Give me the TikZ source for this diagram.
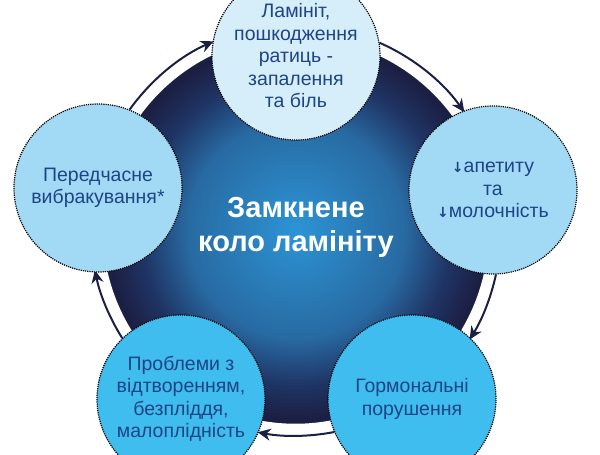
\documentclass[tikz,border=0pt]{standalone}
\usepackage{fontspec}
\setmainfont{Liberation Sans}
\newfontfamily\arrowfont{DejaVu Sans}
\usetikzlibrary{arrows.meta,backgrounds}

\definecolor{glowin}{RGB}{44,148,212}
\definecolor{glowmid}{RGB}{40,106,162}
\definecolor{glowout}{RGB}{31,52,100}
\definecolor{navy}{RGB}{28,31,68}
\definecolor{palebox}{RGB}{214,237,250}
\definecolor{skybox}{RGB}{162,218,245}
\definecolor{brightbox}{RGB}{62,189,238}
\definecolor{inktext}{RGB}{30,68,136}
% glow of the big disc, drawn at its own size
\pgfdeclareradialshading{ringglow}{\pgfpoint{0bp}{0bp}}{color(0bp)=(glowin); color(108bp)=(glowmid); color(155bp)=(glowout); color(188bp)=(navy); color(200bp)=(navy)}

\newcommand{\dn}{{\arrowfont\bfseries\fontsize{14}{14}\selectfont ↓}}

\begin{document}
\begin{tikzpicture}[x=1pt,y=1pt,
  stage/.style={circle, draw=black, densely dotted, line width=1.2pt, minimum size=168pt, inner sep=0pt,
    align=center, text=inktext, font=\fontsize{19.5}{22.5}\selectfont},
  title/.style={text=white, align=center, font=\bfseries\fontsize{29}{34}\selectfont},
  cyc/.style={navy, line width=2pt, -{Stealth[length=13pt,width=12pt]},
    preaction={draw=white, line width=24pt, -}}]
   \useasboundingbox (0,0) rectangle (600,455);
   \coordinate (hub) at (296,225);

   \node[stage, fill=palebox]   (lam)       at (296,399) {Ламініт,\\пошкодження\\ратиць -\\запалення\\та біль};
   \node[stage, fill=skybox]    (appetite)  at (493,265) {\dn апетиту\\та\\\dn молочність};
   \node[stage, fill=brightbox] (hormone)   at (412,56)  {Гормональні\\порушення};
   \node[stage, fill=brightbox] (fertility) at (181,56)  {Проблеми з\\відтворенням,\\безпліддя,\\малоплідність};
   \node[stage, fill=skybox]    (culling)   at (98,267)  {Передчасне\\вибракування*};
   \node[title] (ring) at (296,228) {Замкнене\\коло ламініту};

   \begin{scope}[on background layer]
     \begin{scope}
       \clip (hub) circle[radius=198];
       \node[inner sep=0pt] (disc) at (hub) {\pgfuseshading{ringglow}};
     \end{scope}
     \draw[cyc] (lam.9)         arc[start angle=66.2,   end angle=35.2,   radius=205];
     \draw[cyc] (appetite.-88)  arc[start angle=-12.2,  end angle=-31.9,  radius=205];
     \draw[cyc] (hormone.-157)  arc[start angle=-79.1,  end angle=-100.6, radius=205];
     \draw[cyc] (fertility.134) arc[start angle=-147.8, end angle=-168.4, radius=205];
     \draw[cyc] (culling.68)    arc[start angle=144.4,  end angle=113.8,  radius=205];
   \end{scope}
\end{tikzpicture}
\end{document}
